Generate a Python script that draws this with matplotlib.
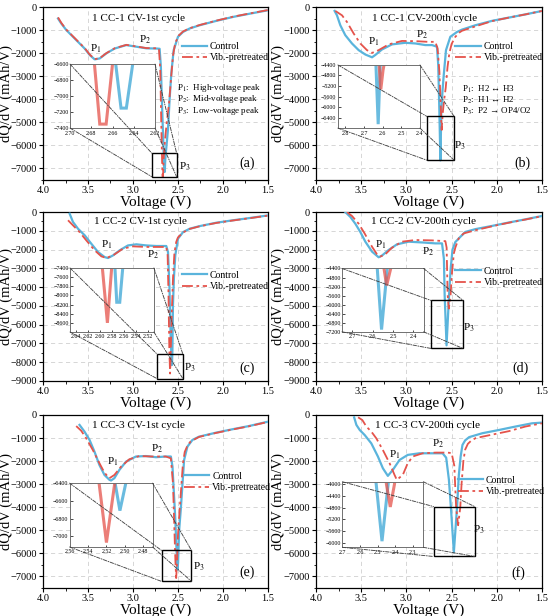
import matplotlib
matplotlib.use("Agg")
import matplotlib.pyplot as plt
from matplotlib.patches import Rectangle, ConnectionPatch
from matplotlib.ticker import MultipleLocator

plt.rcParams["font.family"] = ["Liberation Serif", "DejaVu Serif"]
plt.rcParams["mathtext.fontset"] = "stix"

BLUE = "#5ab4dc"
RED = "#e5534b"

# ---- (a) 1 CC-1 CV, 1st cycle ----
a_ctrl_v = [3.833, 3.796, 3.741, 3.685, 3.611, 3.537, 3.481, 3.426, 3.37, 3.296, 3.204, 3.074, 2.963, 2.852,
            2.741, 2.704, 2.690, 2.675, 2.657, 2.652, 2.647, 2.641, 2.625, 2.611, 2.593, 2.574, 2.548, 2.50,
            2.444, 2.37, 2.259, 2.074, 1.889, 1.704, 1.5]
a_ctrl_q = [-500, -720, -1000, -1220, -1510, -1800, -2080, -2270, -2230, -2010, -1800, -1650, -1720, -1790,
            -1800, -1810, -2600, -4500, -6600, -7150, -7150, -6600, -5900, -5300, -4000, -2870, -1870, -1290,
            -1080, -930, -790, -600, -430, -290, -140]
a_vib_v = [3.833, 3.796, 3.741, 3.685, 3.611, 3.537, 3.481, 3.426, 3.37, 3.296, 3.204, 3.074, 2.963, 2.852,
           2.741, 2.712, 2.697, 2.685, 2.677, 2.672, 2.666, 2.660, 2.645, 2.625, 2.60, 2.575, 2.555, 2.53,
           2.49, 2.444, 2.37, 2.259, 2.074, 1.889, 1.704, 1.5]
a_vib_q = [-450, -690, -980, -1200, -1490, -1780, -2060, -2260, -2220, -2000, -1790, -1640, -1710, -1780,
           -1790, -1800, -2700, -5200, -6600, -7350, -7350, -6600, -5800, -5000, -4200, -3000, -2100, -1550,
           -1230, -1060, -920, -780, -590, -420, -280, -130]

# ---- (b) 1 CC-1 CV, 200th cycle ----
b_ctrl_v = [3.794, 3.768, 3.731, 3.676, 3.602, 3.528, 3.454, 3.38, 3.344, 3.27, 3.159, 3.012, 2.901, 2.791,
            2.717, 2.662, 2.648, 2.636, 2.624, 2.613, 2.60, 2.588, 2.562, 2.514, 2.44, 2.385, 2.237, 2.053,
            1.869, 1.684, 1.5]
b_ctrl_q = [-170, -360, -790, -1220, -1580, -1870, -2060, -2180, -2080, -1840, -1620, -1550, -1580, -1650,
            -1650, -1720, -2500, -4400, -6650, -4400, -3600, -3000, -1870, -1290, -1080, -980, -790, -600,
            -460, -320, -170]
b_vib_v = [3.786, 3.712, 3.657, 3.583, 3.51, 3.436, 3.38, 3.307, 3.196, 3.049, 2.901, 2.754, 2.68, 2.655,
           2.635, 2.619, 2.610, 2.598, 2.585, 2.565, 2.545, 2.525, 2.50, 2.46, 2.42, 2.385, 2.237, 2.053,
           1.869, 1.684, 1.5]
b_vib_q = [-170, -360, -650, -1150, -1580, -1870, -1990, -1870, -1620, -1470, -1480, -1510, -1510, -1800,
           -2800, -4400, -5330, -4600, -4100, -3500, -2600, -2000, -1600, -1300, -1120, -1030, -840, -610,
           -460, -320, -170]

# ---- (c) 1 CC-2 CV, 1st cycle ----
c_ctrl_v = [3.704, 3.667, 3.611, 3.537, 3.463, 3.389, 3.315, 3.278, 3.222, 3.148, 3.056, 2.963, 2.852, 2.741,
            2.63, 2.611, 2.595, 2.582, 2.575, 2.572, 2.567, 2.562, 2.556, 2.545, 2.53, 2.50, 2.444, 2.37,
            2.259, 2.074, 1.889, 1.704, 1.5]
c_ctrl_q = [-90, -530, -890, -1240, -1690, -2130, -2400, -2450, -2310, -2040, -1780, -1720, -1780, -1810,
            -1810, -2130, -4000, -6500, -7400, -8150, -8150, -7400, -5000, -3500, -2310, -1420, -1070, -890,
            -750, -570, -440, -320, -180]
c_vib_v = [3.722, 3.667, 3.593, 3.519, 3.426, 3.352, 3.296, 3.222, 3.111, 3.0, 2.852, 2.704, 2.63, 2.615,
           2.605, 2.596, 2.5876, 2.5805, 2.57, 2.555, 2.54, 2.52, 2.50, 2.444, 2.37, 2.259, 2.074, 1.889,
           1.704, 1.5]
c_vib_q = [-440, -710, -1070, -1510, -2040, -2360, -2450, -2310, -1950, -1830, -1860, -1860, -1860, -2300,
           -4500, -7400, -8600, -7400, -5500, -3500, -2200, -1600, -1350, -1090, -900, -760, -580, -450,
           -330, -190]

# ---- (d) 1 CC-2 CV, 200th cycle ----
d_ctrl_v = [3.676, 3.62, 3.565, 3.51, 3.454, 3.38, 3.307, 3.27, 3.196, 3.104, 2.975, 2.827, 2.68, 2.606,
            2.585, 2.577, 2.556, 2.528, 2.51, 2.49, 2.459, 2.403, 2.348, 2.237, 2.053, 1.869, 1.684, 1.5]
d_ctrl_q = [0, -260, -620, -1060, -1580, -2110, -2410, -2320, -2020, -1720, -1580, -1620, -1670, -1670,
            -2500, -4400, -7100, -4400, -3000, -2000, -1600, -1320, -1060, -910, -740, -560, -390, -210]
d_vib_v = [3.657, 3.602, 3.528, 3.462, 3.38, 3.325, 3.288, 3.233, 3.159, 3.049, 2.901, 2.717, 2.569, 2.555,
           2.544, 2.531, 2.511, 2.495, 2.475, 2.459, 2.422, 2.367, 2.237, 2.053, 1.869, 1.684, 1.5]
d_vib_q = [0, -210, -620, -1140, -1850, -2250, -2370, -2250, -1900, -1580, -1490, -1510, -1550, -1900,
           -4400, -5150, -4400, -3200, -2200, -1900, -1410, -1140, -970, -760, -570, -400, -220]

# ---- (e) 1 CC-3 CV, 1st cycle ----
e_ctrl_v = [3.594, 3.539, 3.483, 3.428, 3.373, 3.317, 3.262, 3.244, 3.207, 3.151, 3.077, 2.967, 2.856, 2.745,
            2.635, 2.579, 2.561, 2.53, 2.5106, 2.5054, 2.499, 2.487, 2.469, 2.432, 2.395, 2.339, 2.266, 2.081,
            1.897, 1.712, 1.5]
e_ctrl_q = [-430, -720, -1080, -1590, -2170, -2600, -2810, -2840, -2740, -2380, -2020, -1800, -1780, -1830,
            -1800, -1800, -2240, -4500, -6400, -6710, -6400, -5000, -4100, -1950, -1370, -1080, -940, -770,
            -620, -480, -290]
e_vib_v = [3.631, 3.576, 3.52, 3.446, 3.373, 3.317, 3.28, 3.262, 3.207, 3.133, 3.041, 2.93, 2.782, 2.635,
           2.579, 2.555, 2.538, 2.528, 2.52, 2.511, 2.50, 2.485, 2.465, 2.445, 2.425, 2.395, 2.36, 2.266,
           2.081, 1.897, 1.712, 1.5]
e_vib_q = [-480, -680, -1010, -1520, -2090, -2500, -2670, -2740, -2600, -2240, -1920, -1780, -1800, -1800,
           -1880, -3000, -5200, -6400, -7070, -6400, -5200, -4300, -3200, -2100, -1600, -1330, -1150, -950,
           -780, -630, -490, -300]

# ---- (f) 1 CC-3 CV, 200th cycle ----
f_ctrl_v = [3.578, 3.553, 3.516, 3.461, 3.388, 3.315, 3.26, 3.205, 3.15, 3.076, 2.985, 2.856, 2.71, 2.60,
            2.56, 2.53, 2.508, 2.475, 2.44, 2.42, 2.40, 2.38, 2.35, 2.306, 2.16, 1.977, 1.793, 1.61, 1.5]
f_ctrl_q = [-100, -430, -650, -870, -1230, -1800, -2310, -2640, -2380, -1950, -1730, -1660, -1660, -1660,
            -1850, -2800, -4000, -5950, -4000, -2600, -1800, -1300, -1100, -960, -790, -650, -500, -360, -330]
f_vib_v = [3.534, 3.487, 3.443, 3.388, 3.333, 3.26, 3.186, 3.131, 3.106, 3.04, 2.985, 2.93, 2.82, 2.673,
           2.55, 2.50, 2.47, 2.45, 2.428, 2.404, 2.39, 2.37, 2.35, 2.32, 2.28, 2.233, 2.05, 1.866, 1.683, 1.5]
f_vib_q = [-100, -220, -500, -720, -1010, -1520, -2090, -2600, -2810, -2600, -2090, -1800, -1660, -1630,
           -1630, -1650, -2200, -4000, -4780, -4000, -3000, -2000, -1500, -1250, -1100, -1000, -850, -700,
           -500, -360]

titles = ["1 CC-1 CV-1st cycle", "1 CC-1 CV-200th cycle", "1 CC-2 CV-1st cycle",
          "1 CC-2 CV-200th cycle", "1 CC-3 CV-1st cycle", "1 CC-3 CV-200th cycle"]
tags = ["(a)", "(b)", "(c)", "(d)", "(e)", "(f)"]
notes_a = ["High-voltage peak", "Mid-voltage peak", "Low-voltage peak"]
notes_b = ["H2 \u2194 H3", "H1 \u2194 H2", "P2 \u2192 OP4/O2"]

# layout per panel: axes rect, ylim bottom, inset rect (axes frac), inset limits, zoom box,
# text positions (title, P1, P2, P3, tag), legend anchor
panels = [
    dict(rect=[0.0782, 0.7078, 0.409, 0.2808], ybot=-7500, data=(a_ctrl_v, a_ctrl_q, a_vib_v, a_vib_q),
         ins=[0.12, 0.30, 0.378, 0.37], ixl=(2.70, 2.62), ixt=[2.70, 2.68, 2.66, 2.64, 2.62], ifmt="{:.2f}",
         iyl=(-7400, -6600), iyt=[-6600, -6800, -7000, -7200, -7400],
         box=(2.79, 2.515, -7360, -6340),
         title=(0.424, 0.936), p1=(0.236, 0.757), p2=(0.453, 0.81), p3=(0.631, 0.075), tag=(0.906, 0.098),
         leg=(0.60, 0.82), notes=(notes_a, 0.595, [0.532, 0.468, 0.396])),
    dict(rect=[0.5745, 0.7078, 0.411, 0.2808], ybot=-7500, data=(b_ctrl_v, b_ctrl_q, b_vib_v, b_vib_q),
         ins=[0.097, 0.30, 0.363, 0.365], ixl=(2.84, 2.40), ixt=[2.8, 2.7, 2.6, 2.5, 2.4], ifmt="{:.1f}",
         iyl=(-6800, -4400), iyt=[-4400, -4800, -5200, -5600, -6000, -6400],
         box=(2.775, 2.473, -6640, -4740),
         title=(0.482, 0.936), p1=(0.257, 0.80), p2=(0.469, 0.838), p3=(0.637, 0.20), tag=(0.912, 0.098),
         leg=(0.60, 0.82), notes=(notes_b, 0.646, [0.526, 0.462, 0.399])),
    dict(rect=[0.0782, 0.3815, 0.409, 0.2743], ybot=-9000, data=(c_ctrl_v, c_ctrl_q, c_vib_v, c_vib_q),
         ins=[0.12, 0.29, 0.373, 0.379], ixl=(2.65, 2.51), ixt=[2.64, 2.62, 2.60, 2.58, 2.56, 2.54, 2.52],
         ifmt="{:.2f}", iyl=(-8800, -7400), iyt=[-7400, -7600, -7800, -8000, -8200, -8400, -8600],
         box=(2.73, 2.445, -8880, -7580),
         title=(0.431, 0.943), p1=(0.283, 0.805), p2=(0.49, 0.745), p3=(0.653, 0.077), tag=(0.905, 0.077),
         leg=(0.60, 0.675), notes=None),
    dict(rect=[0.5745, 0.3815, 0.411, 0.2743], ybot=-9000, data=(d_ctrl_v, d_ctrl_q, d_vib_v, d_vib_q),
         ins=[0.115, 0.291, 0.361, 0.375], ixl=(2.75, 2.35), ixt=[2.7, 2.6, 2.5, 2.4], ifmt="{:.1f}",
         iyl=(-7200, -4400), iyt=[-4400, -4800, -5200, -5600, -6000, -6400, -6800, -7200],
         box=(2.728, 2.374, -7266, -4709),
         title=(0.475, 0.943), p1=(0.288, 0.804), p2=(0.497, 0.766), p3=(0.678, 0.313), tag=(0.905, 0.077),
         leg=(0.60, 0.70), notes=None),
    dict(rect=[0.0782, 0.0455, 0.409, 0.2808], ybot=-7500, data=(e_ctrl_v, e_ctrl_q, e_vib_v, e_vib_q),
         ins=[0.118, 0.237, 0.369, 0.369], ixl=(2.557, 2.47), ixt=[2.56, 2.54, 2.52, 2.50, 2.48], ifmt="{:.2f}",
         iyl=(-7120, -6400), iyt=[-6400, -6600, -6800, -7000],
         box=(2.683, 2.35, -7215, -5870),
         title=(0.422, 0.942), p1=(0.311, 0.73), p2=(0.509, 0.802), p3=(0.692, 0.124), tag=(0.908, 0.09),
         leg=(0.61, 0.695), notes=None),
    dict(rect=[0.5745, 0.0455, 0.411, 0.2808], ybot=-7500, data=(f_ctrl_v, f_ctrl_q, f_vib_v, f_vib_q),
         ins=[0.117, 0.235, 0.358, 0.379], ixl=(2.70, 2.24), ixt=[2.7, 2.6, 2.5, 2.4, 2.3], ifmt="{:.1f}",
         iyl=(-6160, -3920), iyt=[-4000, -4400, -4800, -5200, -5600, -6000],
         box=(2.70, 2.245, -6135, -3970),
         title=(0.494, 0.942), p1=(0.347, 0.769), p2=(0.538, 0.836), p3=(0.721, 0.335), tag=(0.897, 0.086),
         leg=(0.61, 0.672), notes=None),
]

fig = plt.figure(figsize=(5.5, 6.16), dpi=100)

for i, p in enumerate(panels):
    cv, cq, vv, vq = p["data"]
    ax = fig.add_axes(p["rect"])
    ax.plot(cv, cq, color=BLUE, lw=1.6, label="Control", zorder=3)
    ax.plot(vv, vq, color=RED, lw=1.3, ls=(0, (6, 2, 1.5, 2)), label="Vib.-pretreated", zorder=4)
    ax.set_xlim(4.0, 1.5)
    ax.set_ylim(p["ybot"], 0)
    ax.xaxis.set_major_locator(MultipleLocator(0.5))
    ax.xaxis.set_minor_locator(MultipleLocator(0.25))
    ax.yaxis.set_major_locator(MultipleLocator(1000))
    ax.yaxis.set_minor_locator(MultipleLocator(500))
    ax.tick_params(which="both", direction="out", labelsize=7.5, top=False, right=False)
    ax.tick_params(which="major", length=3, width=0.8, pad=1.5)
    ax.tick_params(which="minor", length=1.8, width=0.6)
    ax.grid(True, which="major", ls=(0, (5, 4)), color="#d0d0d0", lw=0.6)
    ax.set_axisbelow(True)
    for s in ax.spines.values():
        s.set_linewidth(0.9)
    ax.set_xlabel("Voltage (V)", fontsize=11, labelpad=0)
    ax.set_ylabel("dQ/dV (mAh/V)", fontsize=10.5)
    ax.yaxis.set_label_coords(-0.135 if i % 2 == 0 else -0.138, 0.5)

    ax.text(*p["title"], titles[i], transform=ax.transAxes, ha="center", va="center", fontsize=8)
    ax.text(*p["p1"], "P$_1$", transform=ax.transAxes, ha="center", va="center", fontsize=8)
    ax.text(*p["p2"], "P$_2$", transform=ax.transAxes, ha="center", va="center", fontsize=8)
    ax.text(*p["p3"], "P$_3$", transform=ax.transAxes, ha="center", va="center", fontsize=8)
    ax.text(*p["tag"], tags[i], transform=ax.transAxes, ha="center", va="center", fontsize=10)
    ax.legend(loc="upper left", bbox_to_anchor=p["leg"], frameon=False, fontsize=7,
              handlelength=2.6, handletextpad=0.3, labelspacing=0.25, borderaxespad=0)

    if p["notes"] is not None:
        lines, nx, nys = p["notes"]
        for k, (txt, ny) in enumerate(zip(lines, nys)):
            ax.text(nx, ny, "P$_%d$:  %s" % (k + 1, txt), transform=ax.transAxes,
                    ha="left", va="center", fontsize=6.5)

    # zoom box in the main axes
    vl, vr, qb, qt = p["box"]
    ax.add_patch(Rectangle((vr, qb), vl - vr, qt - qb, fill=False, ec="black", lw=1.0, zorder=6))

    # inset
    ins = ax.inset_axes(p["ins"])
    ins.plot(cv, cq, color=BLUE, lw=2.2, alpha=0.9, solid_joinstyle="miter")
    ins.plot(vv, vq, color=RED, lw=2.2, alpha=0.75, solid_joinstyle="miter")
    ins.set_xlim(*p["ixl"])
    ins.set_ylim(*p["iyl"])
    ins.set_xticks(p["ixt"])
    ins.set_xticklabels([p["ifmt"].format(t) for t in p["ixt"]])
    ins.set_yticks(p["iyt"])
    ins.set_yticklabels(["\u2212%d" % abs(t) for t in p["iyt"]])
    ins.tick_params(direction="in", labelsize=4.3, length=1.8, width=0.5, pad=1)
    ins.tick_params(axis="x", pad=1.8)
    for s in ins.spines.values():
        s.set_linewidth(0.7)
        s.set_color("#707070")
    ins.set_facecolor("white")

    corners = [((0, 1), (vl, qt)), ((1, 1), (vr, qt)), ((0, 0), (vl, qb)), ((1, 0), (vr, qb))]
    for ca, cb in corners:
        con = ConnectionPatch(xyA=ca, coordsA=ins.transAxes, xyB=cb, coordsB=ax.transData,
                              color="#444444", lw=0.65, ls=(0, (4, 1.5, 1, 1.5)), zorder=10)
        fig.add_artist(con)

fig.savefig("out.png", dpi=100)
